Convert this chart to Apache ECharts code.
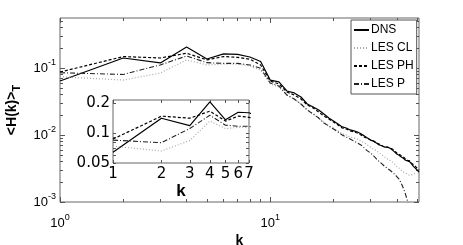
<!DOCTYPE html>
<html>
<head>
<meta charset="utf-8">
<script src="https://cdn.jsdelivr.net/npm/echarts@6/dist/echarts.min.js"></script>
<style>
  html, body { margin: 0; padding: 0; background: #fff; }
  #hk { width: 463px; height: 245px; }
</style>
</head>
<body>
<div id="hk"></div>
<script>
  // wavenumber k = 1..51
  var kk = [];
  for (var i = 1; i <= 51; i++) kk.push(i);

  var dns = [0.064, 0.141, 0.119, 0.206, 0.136, 0.162, 0.160, 0.146, 0.125, 0.066,
    0.062, 0.0454, 0.0424, 0.0369, 0.0290, 0.0262, 0.0236, 0.0206, 0.0179, 0.0162,
    0.0146, 0.0132, 0.0127, 0.0119, 0.0115, 0.0111, 0.0104, 0.0097, 0.0090, 0.0084,
    0.0081, 0.0076, 0.0071, 0.0069, 0.0066, 0.0066, 0.0064, 0.0060, 0.0056, 0.0052,
    0.0050, 0.0047, 0.0045, 0.0042, 0.0041, 0.0040, 0.0037, 0.0034, 0.0032, 0.0030, 0.0028];
  var lesCL = [0.074, 0.066, 0.084, 0.132, 0.111, 0.114, 0.114, 0.107, 0.093, 0.0577,
    0.0520, 0.0395, 0.0344, 0.0290, 0.0236, 0.0206, 0.0179, 0.0156, 0.0136, 0.0127,
    0.0115, 0.0104, 0.0100, 0.0093, 0.0090, 0.0087, 0.0081, 0.0076, 0.0071, 0.0066,
    0.0062, 0.0058, 0.0054, 0.0050, 0.0047, 0.0044, 0.0042, 0.0040, 0.0037, 0.0034,
    0.0032, 0.0030, 0.0028, 0.0027, 0.0026, 0.0025, 0.0025, 0.0026, 0.0027];
  var lesPH = [0.087, 0.148, 0.141, 0.166, 0.132, 0.148, 0.144, 0.135, 0.111, 0.064,
    0.0577, 0.0438, 0.0395, 0.0344, 0.0280, 0.0253, 0.0220, 0.0192, 0.0173, 0.0156,
    0.0141, 0.0127, 0.0123, 0.0115, 0.0111, 0.0107, 0.0100, 0.0093, 0.0090, 0.0084,
    0.0081, 0.0076, 0.0073, 0.0069, 0.0066, 0.0066, 0.0064, 0.0062, 0.0058, 0.0054,
    0.0052, 0.0049, 0.0047, 0.0044, 0.0042, 0.0041, 0.0038, 0.0036, 0.0034, 0.0032, 0.0030];
  var lesP = [0.085, 0.080, 0.111, 0.151, 0.120, 0.117, 0.117, 0.111, 0.099, 0.0597,
    0.0538, 0.0395, 0.0344, 0.0290, 0.0236, 0.0206, 0.0179, 0.0151, 0.0136, 0.0123,
    0.0111, 0.0100, 0.0093, 0.0087, 0.0081, 0.0076, 0.0071, 0.0064, 0.0058, 0.0054,
    0.0049, 0.0044, 0.0040, 0.0037, 0.0034, 0.0032, 0.0030, 0.0028, 0.0026, 0.0024,
    0.0022, 0.0019, 0.0016, 0.0013, 0.00103, 0.00076];

  var names = ['DNS', 'LES CL', 'LES PH', 'LES P'];
  var xMajor = [1, 10];
  var xMinor = [2, 3, 4, 5, 6, 7, 8, 9, 20, 30, 40, 50];
  var yMajor = [0.001, 0.01, 0.1];
  var yMinor = [0.002, 0.003, 0.004, 0.005, 0.006, 0.007, 0.008, 0.009,
    0.02, 0.03, 0.04, 0.05, 0.06, 0.07, 0.08, 0.09, 0.2, 0.3, 0.4, 0.5];
  var insetX = [1, 2, 3, 4, 5, 6, 7];
  var insetY = [0.05, 0.1, 0.2];
  var insetYMinor = [0.06, 0.07, 0.08, 0.09];

  var sans = '"Liberation Sans", Arial, sans-serif';
  var wide = '"DejaVu Sans", sans-serif';

  function pairs(arr) {
    return arr.map(function (v, i) { return [kk[i], v]; });
  }

  // one log axis, only ticks
  function logAxis(pos, grid, min, max, ticks, len) {
    return {
      type: 'log', logBase: 10, gridIndex: grid, position: pos, min: min, max: max,
      axisLine: { show: false }, splitLine: { show: false },
      axisTick: { show: true, inside: true, length: len, customValues: ticks,
        lineStyle: { color: '#555', width: 1 } },
      axisLabel: { show: false }
    };
  }

  function pow10(v) {
    var e = Math.round(Math.log10(v));
    return '{b|10}{s|' + e + '}';
  }
  var powRich = {
    b: { fontSize: 13, lineHeight: 20, fontFamily: sans, color: '#000' },
    s: { fontSize: 9, lineHeight: 10, verticalAlign: 'top', fontFamily: sans, color: '#000' }
  };

  var styles = [
    { color: '#000', width: 1.2, type: 'solid' },
    { color: '#a8a8a8', width: 1.2, type: [1, 2] },
    { color: '#000', width: 1.2, type: [3, 2] },
    { color: '#222', width: 1.1, type: [5, 2, 1, 2] }
  ];
  var sets = [dns, lesCL, lesPH, lesP];

  var xMain = logAxis('bottom', 0, 1, 51, xMajor, 5);
  xMain.axisLabel = { show: true, customValues: xMajor, formatter: pow10, rich: powRich, margin: 11 };
  xMain.name = 'k';
  xMain.nameLocation = 'middle';
  xMain.nameGap = 25;
  xMain.nameTextStyle = { fontSize: 14, fontWeight: 'bold', fontFamily: sans, color: '#000' };

  var yMain = logAxis('left', 0, 0.001, 0.557, yMajor, 5);
  yMain.axisLabel = { show: true, customValues: yMajor, formatter: pow10, rich: powRich, margin: 4 };
  yMain.name = '<H(k)>{t|T}';
  yMain.nameLocation = 'middle';
  yMain.nameRotate = 90;
  yMain.nameGap = 31;
  yMain.nameTextStyle = { fontSize: 14, fontWeight: 'bold', fontFamily: sans, color: '#000', lineHeight: 20,
    rich: { t: { fontSize: 11, fontWeight: 'bold', lineHeight: 10, verticalAlign: 'bottom', fontFamily: sans } } };

  var xIn = logAxis('bottom', 1, 1, 7, insetX, 3);
  xIn.axisLabel = { show: true, customValues: insetX, margin: 4, fontSize: 15, fontFamily: wide, color: '#000' };
  xIn.name = 'k';
  xIn.nameLocation = 'middle';
  xIn.nameGap = 13;
  xIn.nameTextStyle = { fontSize: 17, fontWeight: 'bold', fontFamily: sans, color: '#000' };

  var yIn = logAxis('left', 1, 0.05, 0.215, insetY.concat(insetYMinor), 3);
  yIn.axisLabel = { show: true, customValues: insetY, margin: 3, fontSize: 15, fontFamily: wide, color: '#000',
    formatter: function (v) { return String(Math.round(v * 100) / 100); } };

  var series = [];
  sets.forEach(function (arr, i) {
    series.push({ name: names[i], type: 'line', xAxisIndex: 0, yAxisIndex: 0, data: pairs(arr),
      symbol: 'none', showSymbol: false, clip: true, lineStyle: styles[i], itemStyle: { color: styles[i].color } });
  });
  sets.forEach(function (arr, i) {
    series.push({ name: names[i], type: 'line', xAxisIndex: 4, yAxisIndex: 4, data: pairs(arr),
      symbol: 'none', showSymbol: false, clip: true, lineStyle: styles[i], itemStyle: { color: styles[i].color } });
  });

  var option = {
    animation: false,
    backgroundColor: '#fff',
    grid: [
      { left: 60, top: 18, right: 44, bottom: 43, show: true, borderColor: '#666', borderWidth: 1,
        backgroundColor: '#fff', outerBoundsMode: 'none' },
      { left: 113, top: 100, width: 136, height: 63, show: true, borderColor: '#666', borderWidth: 1,
        backgroundColor: '#fff', outerBoundsMode: 'none' }
    ],
    legend: {
      data: names, orient: 'vertical', left: 351, top: 20, padding: [4, 3, 4, 2],
      itemWidth: 15, itemHeight: 14, itemGap: 6, selectedMode: false,
      itemStyle: { color: 'rgba(0,0,0,0)', borderWidth: 0, opacity: 0 },
      backgroundColor: '#fff', borderColor: '#555', borderWidth: 1, borderRadius: 0,
      textStyle: { fontSize: 12, color: '#000', fontFamily: sans, padding: [0, 0, 0, -3] }
    },
    xAxis: [
      xMain,
      logAxis('bottom', 0, 1, 51, xMinor, 3),
      logAxis('top', 0, 1, 51, xMajor, 5),
      logAxis('top', 0, 1, 51, xMinor, 3),
      xIn,
      logAxis('top', 1, 1, 7, insetX, 3)
    ],
    yAxis: [
      yMain,
      logAxis('left', 0, 0.001, 0.557, yMinor, 3),
      logAxis('right', 0, 0.001, 0.557, yMajor, 5),
      logAxis('right', 0, 0.001, 0.557, yMinor, 3),
      yIn,
      logAxis('right', 1, 0.05, 0.215, insetY.concat(insetYMinor), 3)
    ],
    series: series
  };

  var myChart = echarts.init(document.getElementById('hk'));
  myChart.setOption(option);
</script>
</body>
</html>
